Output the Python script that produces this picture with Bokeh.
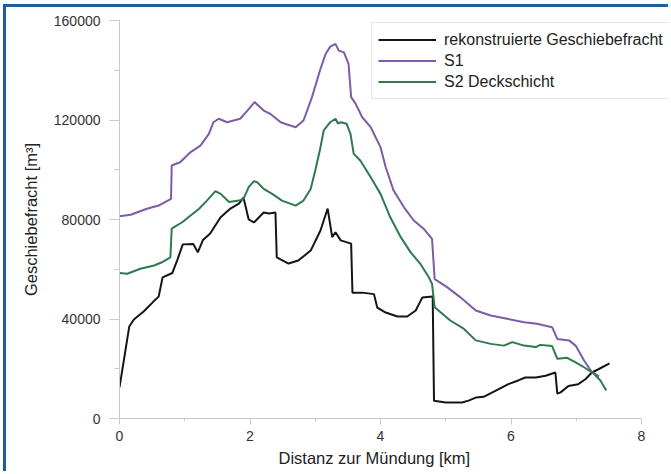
from bokeh.plotting import figure
from bokeh.models import FixedTicker, Legend, LegendItem, Range1d, Title
from bokeh.embed import file_html
from bokeh.resources import INLINE

# Distance from the river mouth [km] and bedload volume [m³]
rek_km = [0, 0.15, 0.22, 0.37, 0.52, 0.6, 0.66, 0.81, 0.89, 0.97, 1.13, 1.2, 1.28, 1.39, 1.55,
          1.7, 1.83, 1.9, 1.98, 2.06, 2.21, 2.29, 2.39, 2.41, 2.59, 2.74, 2.93, 3.08, 3.19, 3.26,
          3.31, 3.39, 3.55, 3.57, 3.72, 3.9, 3.95, 4.08, 4.26, 4.41, 4.54, 4.64, 4.8, 4.82, 5.0,
          5.25, 5.35, 5.46, 5.58, 5.76, 5.96, 6.12, 6.22, 6.38, 6.53, 6.68, 6.71, 6.76, 6.88,
          7.03, 7.14, 7.24, 7.34, 7.51]
rek_m3 = [12500, 37000, 39800, 43000, 47000, 49000, 56700, 58500, 64000, 70000, 70200, 66800,
          71800, 74400, 80900, 84400, 86400, 88800, 80000, 78800, 82800, 82400, 82800, 64800,
          62300, 63500, 67500, 75600, 84400, 72900, 74900, 71600, 70300, 50600, 50600, 50000,
          44600, 42600, 41000, 41000, 43400, 48600, 49000, 7100, 6400, 6400, 7200, 8400, 8700,
          11100, 13800, 15400, 16500, 16500, 17200, 18500, 10000, 10500, 13100, 13800, 15800,
          18500, 19800, 22200]

s1_km = [0, 0.17, 0.42, 0.6, 0.79, 0.8, 0.93, 1.09, 1.24, 1.37, 1.44, 1.52, 1.65, 1.75, 1.85,
         1.96, 2.07, 2.21, 2.31, 2.47, 2.57, 2.7, 2.82, 2.95, 3.08, 3.16, 3.23, 3.31, 3.36, 3.44,
         3.51, 3.55, 3.62, 3.72, 3.85, 4.0, 4.08, 4.2, 4.36, 4.51, 4.66, 4.79, 4.83, 5.02, 5.22,
         5.46, 5.69, 5.94, 6.2, 6.4, 6.63, 6.71, 6.89, 6.99, 7.12, 7.24, 7.35]
s1_m3 = [81300, 81900, 84300, 85600, 88300, 101700, 103000, 107100, 109700, 114400, 119100,
         120500, 119100, 119800, 120500, 123800, 127200, 123800, 122500, 119100, 118200, 117100,
         119800, 129200, 140600, 146600, 149500, 150600, 147900, 147200, 142600, 129200, 126500,
         121100, 117100, 109100, 101000, 91700, 84900, 79600, 76300, 72200, 56000, 52800, 48800,
         43400, 41400, 40100, 38700, 38100, 36700, 32000, 31400, 29300, 23300, 18600, 16900]

s2_km = [0, 0.12, 0.32, 0.53, 0.65, 0.78, 0.8, 0.96, 1.09, 1.22, 1.34, 1.47, 1.55, 1.68, 1.83,
         1.9, 1.98, 2.06, 2.11, 2.21, 2.34, 2.49, 2.7, 2.82, 2.93, 3.0, 3.07, 3.13, 3.23, 3.31,
         3.35, 3.39, 3.48, 3.54, 3.59, 3.69, 3.85, 4.0, 4.15, 4.31, 4.46, 4.61, 4.74, 4.79, 4.83,
         4.92, 5.07, 5.28, 5.46, 5.69, 5.89, 6.02, 6.2, 6.38, 6.45, 6.63, 6.71, 6.86, 6.99, 7.12,
         7.27, 7.37, 7.46]
s2_m3 = [58500, 58200, 60200, 61500, 62800, 64800, 76300, 78900, 81600, 84300, 87600, 91400,
         90300, 87000, 87600, 88300, 93000, 95400, 95000, 92300, 90300, 87600, 85600, 87600,
         92300, 99700, 107700, 115800, 119100, 120500, 118500, 119100, 118500, 114400, 106400,
         103700, 97000, 90300, 80900, 72900, 66900, 62200, 56800, 54100, 44700, 42700, 39400,
         36000, 31400, 30000, 29300, 30700, 29300, 28700, 29600, 29100, 24000, 24400, 22600,
         20600, 18000, 15300, 11300]

series_names = ["rekonstruierte Geschiebefracht", "S1", "S2 Deckschicht"]
x_title = "Distanz zur Mündung [km]"
y_title = "Geschiebefracht [m³]"
x_ticks = [0, 2, 4, 6, 8]
x_minor = [1, 3, 5, 7]
y_ticks = [0, 40000, 80000, 120000, 160000]
y_minor = [20000, 60000, 100000, 140000]

FONT = "Liberation Sans"
AXIS_GRAY = "#c9c9c9"
FRAME_BLUE = "#1d5f9d"

# The data area runs a little past 8 km so the legend fits; the axis line stops at 8.
x_end = 550 / 65.25

p = figure(width=665, height=467, x_range=Range1d(0, x_end), y_range=Range1d(0, 160000),
           output_backend="svg", toolbar_location=None,
           min_border_left=113, min_border_right=2, min_border_top=13, min_border_bottom=56)
p.styles = {"margin-left": "3px", "margin-top": "4px",
            "border-left": f"3px solid {FRAME_BLUE}", "border-top": f"3px solid {FRAME_BLUE}"}
p.outline_line_color = None
p.background_fill_color = "white"
p.border_fill_color = "white"
p.grid.visible = False

p.xaxis.ticker = FixedTicker(ticks=x_ticks, minor_ticks=x_minor)
p.yaxis.ticker = FixedTicker(ticks=y_ticks, minor_ticks=y_minor)
p.yaxis.major_label_overrides = {t: str(t) for t in y_ticks}
p.xaxis.bounds = (0, 8)

for ax in (p.xaxis[0], p.yaxis[0]):
    ax.axis_line_color = AXIS_GRAY
    ax.axis_line_width = 1
    ax.major_tick_line_color = AXIS_GRAY
    ax.minor_tick_line_color = AXIS_GRAY
    ax.major_tick_in = 0
    ax.minor_tick_in = 0
    ax.major_label_text_font = FONT
    ax.major_label_text_font_size = "14px"
    ax.major_label_text_color = "#333333"
    ax.axis_label_text_font = FONT
    ax.axis_label_text_font_size = "16.5px"
    ax.axis_label_text_font_style = "normal"
    ax.axis_label_text_color = "#222222"

p.xaxis.major_tick_out = 6
p.xaxis.minor_tick_out = 3
p.xaxis.major_label_standoff = 6

p.yaxis.major_tick_out = 10
p.yaxis.minor_tick_out = 5
p.yaxis.major_label_standoff = 9
p.yaxis.axis_label = y_title
p.yaxis.axis_label_standoff = 11

# x-axis caption, offset from the left so it sits under the 0–8 km axis
x_caption = Title(text=x_title, align="left", offset=159, standoff=6,
                  text_font=FONT, text_font_size="16.5px", text_font_style="normal",
                  text_color="#222222")
p.add_layout(x_caption, "below")

r_rek = p.line(rek_km, rek_m3, line_color="#151515", line_width=2)
r_s1 = p.line(s1_km, s1_m3, line_color="#7d5ba6", line_width=2)
r_s2 = p.line(s2_km, s2_m3, line_color="#2e7a4e", line_width=2)

legend = Legend(items=[LegendItem(label=series_names[0], renderers=[r_rek]),
                       LegendItem(label=series_names[1], renderers=[r_s1]),
                       LegendItem(label=series_names[2], renderers=[r_s2])],
                location=(252, 319))
legend.label_text_font = FONT
legend.label_text_font_size = "16px"
legend.label_text_color = "#222222"
legend.glyph_width = 58
legend.glyph_height = 21
legend.label_height = 21
legend.label_standoff = 8
legend.spacing = 0
legend.padding = 6
legend.margin = 0
legend.border_line_color = "#cfcfcf"
legend.border_line_width = 1
legend.background_fill_color = "white"
legend.background_fill_alpha = 1
p.add_layout(legend, "center")

open("out.html", "w").write(file_html(p, INLINE))
